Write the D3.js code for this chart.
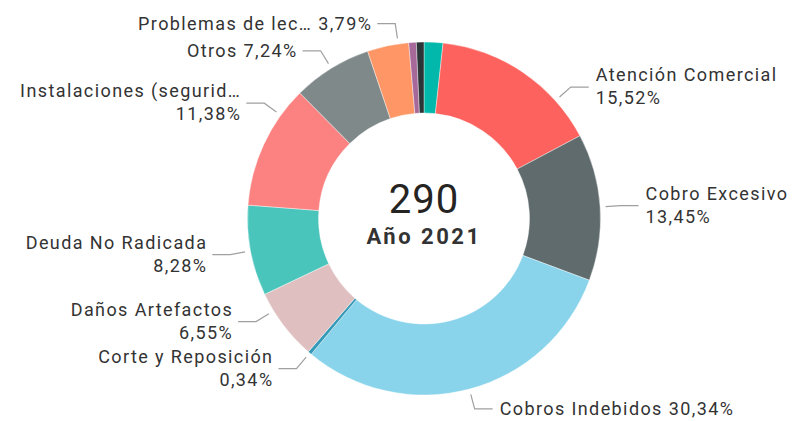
<!DOCTYPE html>
<html>
<head>
<meta charset="utf-8">
<script src="https://cdn.jsdelivr.net/npm/d3@7"></script>
<style>
	body { margin: 0; background: #fff; }
	text { font-family: Roboto, "Noto Sans", sans-serif; }
</style>
</head>
<body>
<div id="chart"></div>
<script>
	// categorias y conteos (orden del grafico, en sentido horario desde las 12)
	var categories = ['Acometidas', 'Atención Comercial', 'Cobro Excesivo', 'Cobros Indebidos', 'Corte y Reposición',
		'Daños Artefactos', 'Deuda No Radicada', 'Instalaciones (segurid…', 'Otros', 'Problemas de lec…', 'Reconexión', 'Suspensión'];
	var counts = [5, 45, 39, 88, 1, 19, 24, 33, 21, 11, 2, 2];
	var colors = ['#01B8AA', '#FD625E', '#5F6B6D', '#8AD4EB', '#3599B8', '#DFBFBF', '#4AC5BB', '#FB8281', '#7F898A', '#FE9666', '#A66999', '#2B3436'];
	var centerTitle = 'Año 2021';

	// etiquetas mostradas: [categoria, una linea?, ajuste de angulo en grados]
	var shown = [
		['Atención Comercial', false, 14],
		['Cobro Excesivo', false, 0],
		['Cobros Indebidos', true, 0],
		['Corte y Reposición', false, 0],
		['Daños Artefactos', false, 5.7],
		['Deuda No Radicada', false, 0],
		['Instalaciones (segurid…', false, 11],
		['Otros', true, 0],
		['Problemas de lec…', true, 3.4]
	];

	var W = 805, H = 421, cx = 424, cy = 218.5;
	var rOuter = 176.5, rInner = 105.5, rLead = 182, rElbow = 197;

	var total = d3.sum(counts);
	var fmt = function(v) { return (v / total * 100).toFixed(2).replace('.', ',') + '%'; };

	var svg = d3.select('#chart').append('svg').attr('width', W).attr('height', H);
	var g = svg.append('g').attr('transform', 'translate(' + cx + ',' + cy + ')');

	var pie = d3.pie().sort(null).value(function(d) { return d.v; });
	var arcs = pie(categories.map(function(c, i) { return {name: c, v: counts[i], color: colors[i]}; }));
	var arc = d3.arc().innerRadius(rInner).outerRadius(rOuter);

	g.selectAll('path.slice').data(arcs).enter().append('path')
		.attr('class', 'slice')
		.attr('d', arc)
		.attr('fill', function(d) { return d.data.color; })
		.attr('stroke', '#fff').attr('stroke-width', 0.4);

	var pt = function(a, r) { return [r * Math.sin(a), -r * Math.cos(a)]; };

	shown.forEach(function(s) {
		var d = arcs[categories.indexOf(s[0])];
		var a = (d.startAngle + d.endAngle) / 2 + s[2] * Math.PI / 180;
		var right = a < Math.PI;
		var p0 = pt(a, rLead), p1 = pt(a, rElbow);
		var p2 = [p1[0] + (right ? 18 : -18), p1[1]];
		var tx = p2[0] + (right ? 7 : -5);
		g.append('polyline')
			.attr('points', [p0, p1, p2].map(function(p) { return p.join(','); }).join(' '))
			.attr('fill', 'none').attr('stroke', '#a0a0a0').attr('stroke-width', 1.2);
		var t = g.append('text')
			.attr('x', tx)
			.attr('text-anchor', right ? 'start' : 'end')
			.attr('fill', '#333').style('font-size', '18px').style('letter-spacing', '1.4px');
		if (s[1]) {
			t.attr('y', p2[1] + 6).text(s[0] + ' ' + fmt(d.data.v));
		} else {
			t.attr('y', p2[1] - 6);
			t.append('tspan').attr('x', tx).text(s[0]);
			t.append('tspan').attr('x', tx).attr('dy', 23).text(fmt(d.data.v));
		}
	});

	g.append('text').attr('text-anchor', 'middle').attr('y', -6)
		.attr('fill', '#252423').style('font-size', '40px').style('letter-spacing', '1px').text(total);
	g.append('text').attr('text-anchor', 'middle').attr('y', 25)
		.attr('fill', '#333').style('font-size', '22px').style('font-weight', 'bold')
		.style('letter-spacing', '2.5px').text(centerTitle);
</script>
</body>
</html>
